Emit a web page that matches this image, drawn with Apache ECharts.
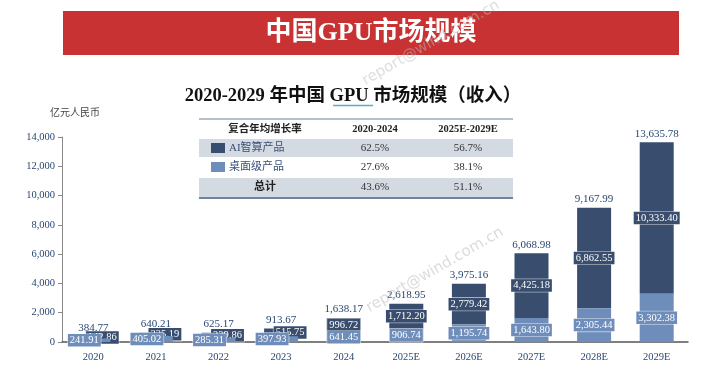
<!DOCTYPE html>
<html><head><meta charset="utf-8">
<script src="https://cdn.jsdelivr.net/npm/echarts@6/dist/echarts.min.js"></script>
<style>html,body{margin:0;padding:0;background:#fff}#c{width:704px;height:385px}</style>
</head><body><div id="c"></div>
<script>
var categories = ['2020','2021','2022','2023','2024','2025E','2026E','2027E','2028E','2029E'];
var desktopValues = [241.91, 405.02, 285.31, 397.93, 641.45, 906.74, 1195.74, 1643.80, 2305.44, 3302.38];
var aiValues = [142.86, 235.19, 339.86, 515.75, 996.72, 1712.20, 2779.42, 4425.18, 6862.55, 10333.40];
var totalValues = [384.77, 640.21, 625.17, 913.67, 1638.17, 2618.95, 3975.16, 6068.98, 9167.99, 13635.78];
var yTicks = [0, 2000, 4000, 6000, 8000, 10000, 12000, 14000];
var tableHeader = ['复合年均增长率', '2020-2024', '2025E-2029E'];
var tableRowNames = ['AI智算产品', '桌面级产品', '总计'];
var tableCol1 = ['62.5%', '27.6%', '43.6%'];
var tableCol2 = ['56.7%', '38.1%', '51.1%'];

var DARK = '#394e6e', LIGHT = '#6e8dba', TXT = '#2a4770';
var SERIF = '"Liberation Serif","Times New Roman","Noto Sans CJK SC",serif';
function fmt(v){ var p = Number(v).toFixed(2).split('.'); return p[0].replace(/\B(?=(\d{3})+(?!\d))/g, ',') + '.' + p[1]; }
function fmtInt(v){ return String(v).replace(/\B(?=(\d{3})+(?!\d))/g, ','); }

var smallCount = 4;
function barData(vals, dx){
  return vals.map(function(v,i){
    var d = {value: v};
    if (i < smallCount) d.label = {offset: [dx, 0]};
    return d;
  });
}
var labelBase = {
  show: true, position: 'inside', color: '#fff', fontFamily: SERIF, fontSize: 10.5,
  padding: [1, 2], borderColor: 'rgba(255,255,255,0.55)', borderWidth: 0.8,
  formatter: function(p){ return fmt(p.value); }
};

var chart = echarts.init(document.getElementById('c'), null, {renderer: 'canvas'});

var g = [];
var TX0 = 199, TX1 = 513, colX = [265, 375, 468];
g.push({type:'rect', shape:{x:TX0, y:139, width:TX1-TX0, height:18}, style:{fill:'#d4dae2'}});
g.push({type:'rect', shape:{x:TX0, y:178, width:TX1-TX0, height:19}, style:{fill:'#d4dae2'}});
g.push({type:'line', shape:{x1:TX0, y1:119, x2:TX1, y2:119}, style:{stroke:'#9eaabb', lineWidth:1.5}});
g.push({type:'line', shape:{x1:TX0, y1:198, x2:TX1, y2:198}, style:{stroke:'#3d5a80', lineWidth:1.5}});
var rowY = [148, 167, 187];
tableHeader.forEach(function(t,i){
  g.push({type:'text', x: colX[i], y: 129, style:{text:t, fill:'#222', font:'bold 10.5px '+SERIF, textAlign:'center', textVerticalAlign:'middle'}});
});
[DARK, LIGHT].forEach(function(c,i){
  g.push({type:'rect', shape:{x:211, y:rowY[i]-5, width:14, height:10}, style:{fill:c}});
  g.push({type:'text', x: 229, y: rowY[i], style:{text:tableRowNames[i], fill:'#3a5078', font:'11px '+SERIF, textAlign:'left', textVerticalAlign:'middle'}});
});
g.push({type:'text', x: colX[0], y: rowY[2], style:{text:tableRowNames[2], fill:'#222', font:'bold 11px '+SERIF, textAlign:'center', textVerticalAlign:'middle'}});
for (var r=0;r<3;r++){
  g.push({type:'text', x: colX[1], y: rowY[r], style:{text:tableCol1[r], fill:'#333', font:'11px '+SERIF, textAlign:'center', textVerticalAlign:'middle'}});
  g.push({type:'text', x: colX[2], y: rowY[r], style:{text:tableCol2[r], fill:'#333', font:'11px '+SERIF, textAlign:'center', textVerticalAlign:'middle'}});
}
g.unshift({type:'rect', shape:{x:63, y:11, width:616, height:44}, style:{fill:'#c93232'}});
g.push({type:'text', x: 371, y: 33, style:{text:'中国GPU市场规模', fill:'#fff', font:'bold 26px '+SERIF, textAlign:'center', textVerticalAlign:'middle'}});
g.push({type:'text', x: 353, y: 96, style:{text:'2020-2029 年中国 GPU 市场规模（收入）', fill:'#111', font:'bold 18.5px '+SERIF, textAlign:'center', textVerticalAlign:'middle'}});
g.push({type:'line', shape:{x1:333, y1:105.5, x2:373, y2:105.5}, style:{stroke:'#4fb3c8', lineWidth:1.5}});
g.push({type:'text', x: 75, y: 113, style:{text:'亿元人民币', fill:'#444', font:'10px '+SERIF, textAlign:'center', textVerticalAlign:'middle'}});
g.push({type:'text', x: 431, y: 43, rotation: Math.PI/6, z: 100, style:{text:'report@wind.com.cn', fill:'rgba(190,190,190,0.5)', font:'15px "DejaVu Sans",sans-serif', textAlign:'center', textVerticalAlign:'middle'}});
g.push({type:'text', x: 435, y: 270, rotation: Math.PI/6, z: 100, style:{text:'report@wind.com.cn', fill:'rgba(190,190,190,0.55)', font:'15px "DejaVu Sans",sans-serif', textAlign:'center', textVerticalAlign:'middle'}});

chart.setOption({
  animation: false,
  backgroundColor: '#fff',
  grid: {left: 62, right: 16, top: 137, bottom: 43, containLabel: false},
  xAxis: {
    type: 'category', data: categories,
    axisLine: {lineStyle: {color: '#555', width: 1.5}},
    axisTick: {show: false},
    axisLabel: {color: TXT, fontFamily: SERIF, fontSize: 10.5, margin: 10}
  },
  yAxis: {
    type: 'value', min: yTicks[0], max: yTicks[yTicks.length-1], interval: yTicks[1]-yTicks[0],
    axisLine: {show: true, lineStyle: {color: '#888'}},
    axisTick: {show: true, length: 4, lineStyle: {color: '#888'}},
    splitLine: {show: false},
    axisLabel: {color: TXT, fontFamily: SERIF, fontSize: 10.5, margin: 7, formatter: function(v){return fmtInt(v);}}
  },
  series: [
    {name: 'AI智算产品', type: 'bar', stack: 'a', stackOrder: 'seriesDesc', barWidth: 34, z: 2, data: barData(aiValues, 9),
     itemStyle: {color: DARK}, label: Object.assign({}, labelBase, {backgroundColor: DARK})},
    {name: '桌面级产品', type: 'bar', stack: 'a', stackOrder: 'seriesDesc', barWidth: 34, z: 3, data: barData(desktopValues, -9),
     itemStyle: {color: LIGHT}, label: Object.assign({}, labelBase, {backgroundColor: LIGHT})},
    {name: '总计', type: 'scatter', data: totalValues, symbolSize: 2, z: 4, itemStyle: {color: 'rgba(0,0,0,0)'},
     label: {show: true, position: 'top', distance: 2, color: TXT, opacity: 1, fontFamily: SERIF, fontSize: 11,
       formatter: function(p){ return fmt(p.value); }}}
  ],
  graphic: g
});
</script></body></html>
